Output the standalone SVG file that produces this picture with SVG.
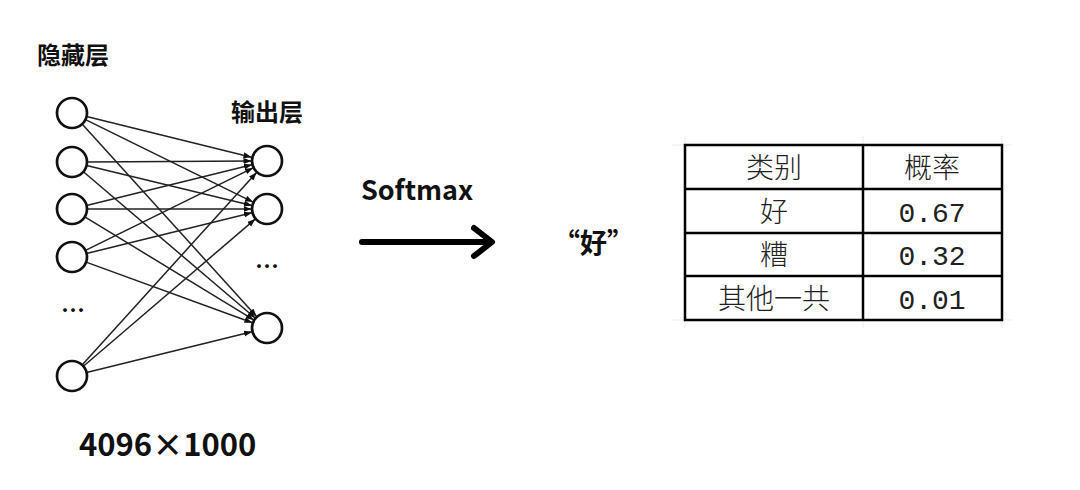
<svg xmlns="http://www.w3.org/2000/svg" width="1080" height="490" viewBox="0 0 1080 490">
<defs>
<style>
.lbl{font-family:"Noto Sans CJK SC","Noto Sans",sans-serif;font-weight:bold;fill:#111}
.node{fill:#fff;stroke:#111;stroke-width:2.7}
.edge{stroke:#222;stroke-width:1.5;fill:none;marker-end:url(#ah)}
.cell{font-family:"Noto Sans CJK SC",sans-serif;font-size:28px;font-weight:300;fill:#222;text-anchor:middle}
.num{font-family:"Liberation Mono",monospace;font-size:28px;fill:#222;text-anchor:middle}
.grid{stroke:#ebebeb;stroke-width:1}
</style>
<marker id="ah" markerUnits="userSpaceOnUse" markerWidth="9" markerHeight="7" refX="8" refY="3" orient="auto">
<path d="M0,0 L8,3 L0,6 z" fill="#111"/>
</marker>
</defs>
<rect width="1080" height="490" fill="#fff"/>

<g id="labels">
<text class="lbl" x="37" y="64" font-size="24">隐藏层</text>
<text class="lbl" x="231" y="121" font-size="24">输出层</text>
<text class="lbl" x="73" y="319" font-size="24" text-anchor="middle">…</text>
<text class="lbl" x="267" y="275" font-size="24" text-anchor="middle">…</text>
<text class="lbl" x="79" y="456" font-size="31">4096×1000</text>
</g>

<g id="connectors">
<line class="edge" x1="86.6" y1="116.6" x2="251.5" y2="157.2"/>
<line class="edge" x1="85.5" y1="119.6" x2="253.1" y2="202.1"/>
<line class="edge" x1="82.1" y1="124.1" x2="256.6" y2="316.5"/>
<line class="edge" x1="87" y1="162" x2="251.5" y2="161"/>
<line class="edge" x1="86.6" y1="165.5" x2="251.9" y2="205.4"/>
<line class="edge" x1="83.4" y1="171.7" x2="255.2" y2="318.0"/>
<line class="edge" x1="86.6" y1="205.4" x2="251.9" y2="164.7"/>
<line class="edge" x1="87" y1="209" x2="251.5" y2="209"/>
<line class="edge" x1="84.8" y1="216.8" x2="253.8" y2="319.9"/>
<line class="edge" x1="85.5" y1="250.4" x2="253.1" y2="167.9"/>
<line class="edge" x1="86.6" y1="253.4" x2="251.9" y2="212.7"/>
<line class="edge" x1="86.1" y1="262.1" x2="252.4" y2="322.7"/>
<line class="edge" x1="82.1" y1="364.9" x2="256.6" y2="172.5"/>
<line class="edge" x1="83.4" y1="366.2" x2="255.2" y2="219.1"/>
<line class="edge" x1="86.6" y1="372.4" x2="251.9" y2="331.7"/>
</g>

<g id="hidden-1"><circle class="node" cx="72" cy="113" r="15"/></g>
<g id="hidden-2"><circle class="node" cx="72" cy="162" r="15"/></g>
<g id="hidden-3"><circle class="node" cx="72" cy="209" r="15"/></g>
<g id="hidden-4"><circle class="node" cx="72" cy="257" r="15"/></g>
<g id="hidden-5"><circle class="node" cx="72" cy="376" r="15"/></g>
<g id="out-1"><circle class="node" cx="267" cy="161" r="15"/></g>
<g id="out-2"><circle class="node" cx="267" cy="209" r="15"/></g>
<g id="out-3"><circle class="node" cx="267" cy="328" r="15"/></g>

<g id="softmax">
<text class="lbl" x="361" y="200" font-size="27">Softmax</text>
<line x1="362" y1="242" x2="490" y2="242" stroke="#000" stroke-width="6" stroke-linecap="round"/>
<polyline points="474,228 492,242 474,256" fill="none" stroke="#000" stroke-width="6" stroke-linecap="round" stroke-linejoin="round"/>
</g>

<g id="result">
<text class="lbl" x="553" y="253" font-size="27">“好”</text>
</g>

<g id="table">
<line class="grid" x1="672" y1="145" x2="1012" y2="145"/>
<line class="grid" x1="672" y1="320" x2="1012" y2="320"/>
<line class="grid" x1="685" y1="136" x2="685" y2="328"/>
<line class="grid" x1="863" y1="136" x2="863" y2="328"/>
<line class="grid" x1="1002" y1="136" x2="1002" y2="328"/>
<rect x="685" y="145" width="317" height="175" fill="none" stroke="#000" stroke-width="2.5"/>
<line x1="863" y1="145" x2="863" y2="320" stroke="#000" stroke-width="2.5"/>
<line x1="685" y1="189" x2="1002" y2="189" stroke="#000" stroke-width="2.5"/>
<line x1="685" y1="233" x2="1002" y2="233" stroke="#000" stroke-width="2.5"/>
<line x1="685" y1="276" x2="1002" y2="276" stroke="#000" stroke-width="2.5"/>
<text class="cell" x="774" y="178">类别</text>
<text class="cell" x="932" y="178">概率</text>
<text class="cell" x="774" y="222">好</text>
<text class="num" x="932" y="222">0.67</text>
<text class="cell" x="774" y="265">糟</text>
<text class="num" x="932" y="265">0.32</text>
<text class="cell" x="774" y="309">其他一共</text>
<text class="num" x="932" y="309">0.01</text>
</g>
</svg>
